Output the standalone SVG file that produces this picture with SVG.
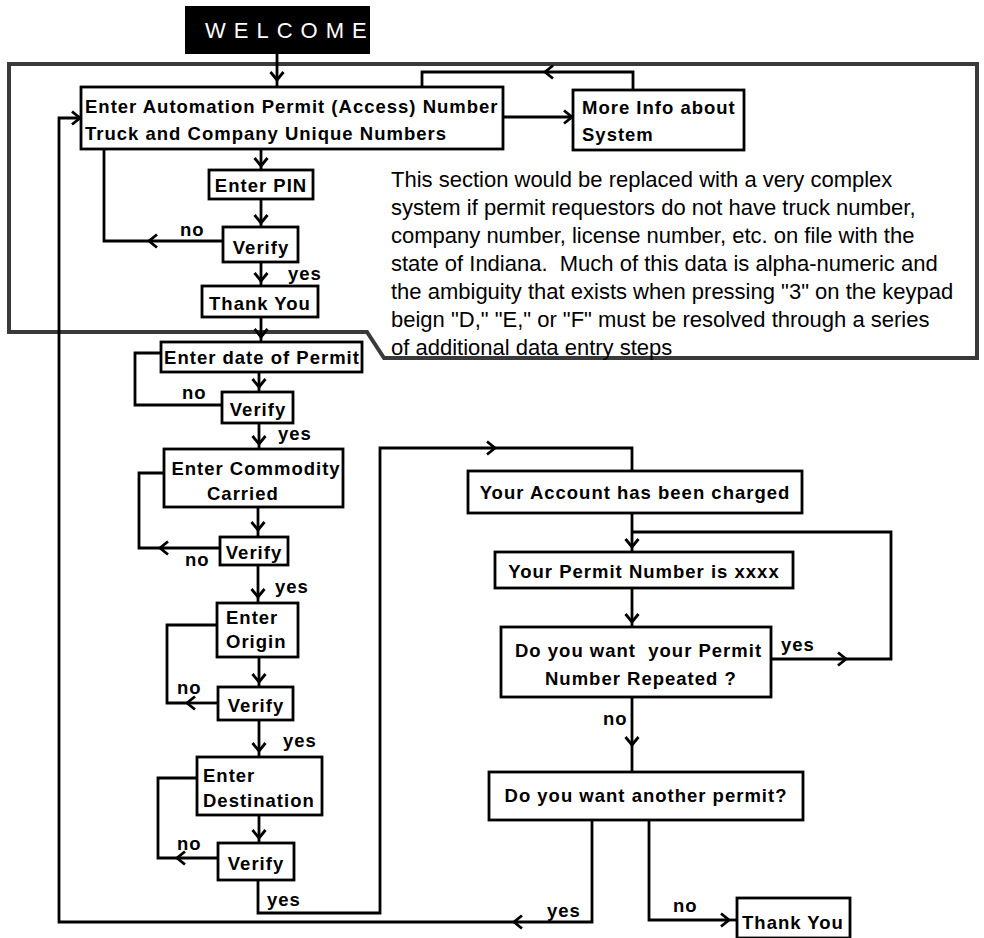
<svg xmlns="http://www.w3.org/2000/svg" width="984" height="938" viewBox="0 0 984 938">
<style>
.box{fill:#fff;stroke:#000;stroke-width:2.8}
.ln{fill:none;stroke:#000;stroke-width:2.8}
.frame{fill:none;stroke:#3a3a3a;stroke-width:4}
.b{font-family:"Liberation Sans",Arial,sans-serif;font-weight:bold;font-size:18.5px;letter-spacing:1px;fill:#000;white-space:pre}
.p{font-family:"Liberation Sans",Arial,sans-serif;font-size:22px;fill:#000;white-space:pre}
.w{font-family:"Liberation Sans",Arial,sans-serif;font-size:22px;letter-spacing:8px;fill:#fff}
</style>
<defs>
<marker id="ah" viewBox="-11 -9 14 18" refX="0" refY="0" markerWidth="14" markerHeight="18" markerUnits="userSpaceOnUse" orient="auto">
<path d="M-8,-6.5 L0,0 L-8,6.5" fill="none" stroke="#000" stroke-width="2.8"/>
</marker>
</defs>
<rect x="0" y="0" width="984" height="938" fill="#fff"/>

<g id="frame">
<path class="frame" d="M367,332 L9,332 L9,64 L977,64 L977,358 L384,358 Z"/>
</g>

<g id="note">
<text class="p" x="391" y="187">This section would be replaced with a very complex</text>
<text class="p" x="391" y="215">system if permit requestors do not have truck number,</text>
<text class="p" x="391" y="243">company number, license number, etc. on file with the</text>
<text class="p" x="391" y="271" xml:space="preserve">state of Indiana.  Much of this data is alpha-numeric and</text>
<text class="p" x="391" y="299">the ambiguity that exists when pressing "3" on the keypad</text>
<text class="p" x="391" y="327">beign "D," "E," or "F" must be resolved through a series</text>
<text class="p" x="391" y="355">of additional data entry steps</text>
</g>

<g id="connectors">
<path class="ln" d="M277,54 L277,80" marker-end="url(#ah)"/><path class="ln" d="M277,80 L277,87"/>
<path class="ln" d="M503,117 L572,117" marker-end="url(#ah)"/>
<path class="ln" d="M633,90 L633,72 L545,72" marker-end="url(#ah)"/><path class="ln" d="M545,72 L422,72 L422,87"/>
<path class="ln" d="M261,149 L261,166" marker-end="url(#ah)"/><path class="ln" d="M261,166 L261,170"/>
<path class="ln" d="M261,199 L261,223" marker-end="url(#ah)"/><path class="ln" d="M261,223 L261,227"/>
<path class="ln" d="M223,241 L149,241" marker-end="url(#ah)"/><path class="ln" d="M149,241 L104,241 L104,149"/>
<path class="ln" d="M261,262 L261,281" marker-end="url(#ah)"/><path class="ln" d="M261,281 L261,286"/>
<path class="ln" d="M261,317 L261,337" marker-end="url(#ah)"/><path class="ln" d="M261,337 L261,342"/>
<path class="ln" d="M161,353 L135,353 L135,405 L222,405"/>
<path class="ln" d="M259,372 L259,387" marker-end="url(#ah)"/><path class="ln" d="M259,387 L259,392"/>
<path class="ln" d="M259,423 L259,444" marker-end="url(#ah)"/><path class="ln" d="M259,444 L259,449"/>
<path class="ln" d="M220,548 L160,548" marker-end="url(#ah)"/><path class="ln" d="M160,548 L139,548 L139,473 L164,473"/>
<path class="ln" d="M258,507 L258,530" marker-end="url(#ah)"/><path class="ln" d="M258,530 L258,537"/>
<path class="ln" d="M258,565 L258,597" marker-end="url(#ah)"/><path class="ln" d="M258,597 L258,603"/>
<path class="ln" d="M218,703 L187,703" marker-end="url(#ah)"/><path class="ln" d="M187,703 L167,703 L167,625 L217,625"/>
<path class="ln" d="M259,657 L259,682" marker-end="url(#ah)"/><path class="ln" d="M259,682 L259,687"/>
<path class="ln" d="M259,720 L259,751" marker-end="url(#ah)"/><path class="ln" d="M259,751 L259,757"/>
<path class="ln" d="M218,858 L177,858" marker-end="url(#ah)"/><path class="ln" d="M177,858 L158,858 L158,778 L197,778"/>
<path class="ln" d="M259,815 L259,838" marker-end="url(#ah)"/><path class="ln" d="M259,838 L259,843"/>
<path class="ln" d="M258,880 L258,913 L380,913 L380,448 L495,448" marker-end="url(#ah)"/><path class="ln" d="M495,448 L632,448 L632,471"/>
<path class="ln" d="M632,513 L632,547" marker-end="url(#ah)"/><path class="ln" d="M632,547 L632,552"/>
<path class="ln" d="M632,588 L632,622" marker-end="url(#ah)"/><path class="ln" d="M632,622 L632,627"/>
<path class="ln" d="M771,659 L846,659" marker-end="url(#ah)"/><path class="ln" d="M846,659 L891,659 L891,532 L632,532"/>
<path class="ln" d="M632,697 L632,745" marker-end="url(#ah)"/><path class="ln" d="M632,745 L632,772"/>
<path class="ln" d="M592,820 L592,922 L514,922" marker-end="url(#ah)"/><path class="ln" d="M514,922 L59,922 L59,118 L80,118" marker-end="url(#ah)"/>
<path class="ln" d="M649,820 L649,920 L729,920" marker-end="url(#ah)"/><path class="ln" d="M729,920 L737,920"/>
<text class="b" x="180" y="236">no</text>
<text class="b" x="288" y="280">yes</text>
<text class="b" x="182" y="399">no</text>
<text class="b" x="278" y="440">yes</text>
<text class="b" x="185" y="566">no</text>
<text class="b" x="275" y="593">yes</text>
<text class="b" x="177" y="694">no</text>
<text class="b" x="283" y="747">yes</text>
<text class="b" x="177" y="850">no</text>
<text class="b" x="267" y="906">yes</text>
<text class="b" x="781" y="651">yes</text>
<text class="b" x="603" y="725">no</text>
<text class="b" x="547" y="917">yes</text>
<text class="b" x="673" y="912">no</text>
</g>

<g id="welcome">
<rect x="185" y="6" width="185" height="48" fill="#000"/>
<text class="w" x="205" y="38">WELCOME</text>
</g>

<g id="access">
<rect class="box" x="81" y="87" width="422" height="62"/>
<text class="b" x="85" y="113">Enter Automation Permit (Access) Number</text>
<text class="b" x="85" y="140">Truck and Company Unique Numbers</text>
</g>

<g id="moreinfo">
<rect class="box" x="573" y="90" width="171" height="60"/>
<text class="b" x="582" y="114">More Info about</text>
<text class="b" x="582" y="141">System</text>
</g>

<g id="pin">
<rect class="box" x="209" y="170" width="104" height="29"/>
<text class="b" x="261" y="192" text-anchor="middle">Enter PIN</text>
</g>

<g id="verify1">
<rect class="box" x="223" y="227" width="75" height="35"/>
<text class="b" x="261" y="254" text-anchor="middle">Verify</text>
</g>

<g id="thanks1">
<rect class="box" x="202" y="286" width="116" height="31"/>
<text class="b" x="260" y="310" text-anchor="middle">Thank You</text>
</g>

<g id="date">
<rect class="box" x="161" y="342" width="201" height="30"/>
<text class="b" x="262" y="364" text-anchor="middle">Enter date of Permit</text>
</g>

<g id="verify2">
<rect class="box" x="222" y="392" width="71" height="31"/>
<text class="b" x="258" y="416" text-anchor="middle">Verify</text>
</g>

<g id="commodity">
<rect class="box" x="164" y="449" width="179" height="58"/>
<text class="b" x="256" y="475" text-anchor="middle">Enter Commodity</text>
<text class="b" x="207" y="500">Carried</text>
</g>

<g id="verify3">
<rect class="box" x="220" y="537" width="68" height="28"/>
<text class="b" x="254" y="559" text-anchor="middle">Verify</text>
</g>

<g id="origin">
<rect class="box" x="217" y="603" width="81" height="54"/>
<text class="b" x="226" y="624">Enter</text>
<text class="b" x="226" y="648">Origin</text>
</g>

<g id="verify4">
<rect class="box" x="218" y="687" width="75" height="33"/>
<text class="b" x="256" y="712" text-anchor="middle">Verify</text>
</g>

<g id="destination">
<rect class="box" x="197" y="757" width="125" height="58"/>
<text class="b" x="203" y="782">Enter</text>
<text class="b" x="203" y="807">Destination</text>
</g>

<g id="verify5">
<rect class="box" x="218" y="843" width="76" height="37"/>
<text class="b" x="256" y="870" text-anchor="middle">Verify</text>
</g>

<g id="charged">
<rect class="box" x="468" y="471" width="334" height="42"/>
<text class="b" x="635" y="499" text-anchor="middle">Your Account has been charged</text>
</g>

<g id="permitno">
<rect class="box" x="495" y="552" width="298" height="36"/>
<text class="b" x="644" y="578" text-anchor="middle">Your Permit Number is xxxx</text>
</g>

<g id="repeat">
<rect class="box" x="501" y="627" width="270" height="70"/>
<text class="b" x="515" y="657" xml:space="preserve">Do you want  your Permit</text>
<text class="b" x="545" y="685">Number Repeated ?</text>
</g>

<g id="another">
<rect class="box" x="489" y="772" width="314" height="48"/>
<text class="b" x="646" y="802" text-anchor="middle">Do you want another permit?</text>
</g>

<g id="thanks2">
<rect class="box" x="737" y="898" width="113" height="40"/>
<text class="b" x="793" y="929" text-anchor="middle">Thank You</text>
</g>
</svg>
